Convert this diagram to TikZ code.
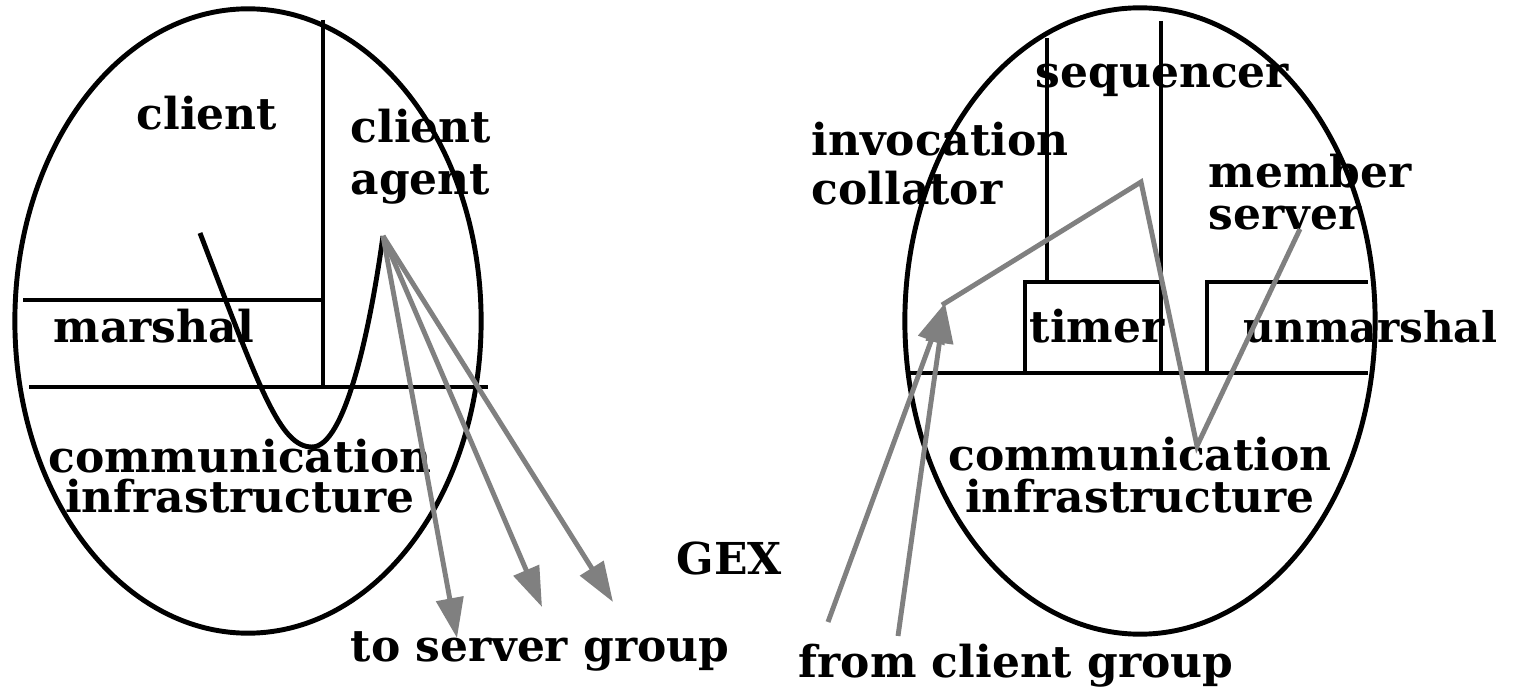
\documentclass[tikz,border=0pt]{standalone}
\usepackage{fontspec}
\setmainfont{DejaVu Serif}
\usetikzlibrary{arrows.meta}
\definecolor{arrgray}{RGB}{128,128,128}
\tikzset{
  lbl/.style={inner sep=0pt, font=\bfseries\fontsize{12.5}{#1}\selectfont},
  lbl/.default=14.8,
  blk/.style={line width=1.4pt, black},
  gry/.style={line width=1.4pt, arrgray},
  garrow/.style={gry, -{Triangle[length=0.4cm,width=0.27cm]}}
}
\begin{document}
\begin{tikzpicture}[x=0.01cm,y=-0.01cm]
\useasboundingbox[fill=white] (0,0) rectangle (1514,691);

% ---------- left ellipse ----------
\draw[blk] (248,321) ellipse [x radius=2.33cm, y radius=3.12cm];
\draw[blk] (323,20) -- (323,388);
\draw[blk] (23,300) -- (323,300);
\draw[blk] (29,387) -- (488,387);
\coordinate (peak) at (383,236);
\coordinate (cstart) at (200,233);
\draw[blk] (cstart) .. controls (260,390) and (280,447) .. (312,447)
                   .. controls (345,447) and (370,330) .. (peak);

\node[lbl, anchor=base] (client) at (207,130) {client};
\node[lbl=14.8, anchor=base west, align=left] (cagent) at (350,195) {client\\agent};
\node[lbl, anchor=base west] (marshal) at (53,343) {marshal};
\node[lbl=11.4, anchor=base, align=center] (comL) at (240,513) {communication\\infrastructure};
\node[lbl, anchor=base west] (toserver) at (350,662) {to server group};
\node[lbl, anchor=base west] (gex) at (676,574) {GEX};

\coordinate (t1) at (457,638);
\coordinate (t2) at (542,607);
\coordinate (t3) at (613,602);
\draw[garrow] (peak) -- (t1);
\draw[garrow] (peak) -- (t2);
\draw[garrow] (peak) -- (t3);

% ---------- right ellipse ----------
\draw[blk] (1140,321) ellipse [x radius=2.35cm, y radius=3.13cm];
\draw[blk] (1047,38) -- (1047,283);
\draw[blk] (1161,21) -- (1161,375);
\draw[blk] (1025,375) -- (1025,282) -- (1161,282);
\draw[blk] (1207,375) -- (1207,282) -- (1368,282);
\draw[blk] (909,373) -- (1368,373);

\node[lbl, anchor=base west] (seq) at (1035,88) {sequencer};
\node[lbl=14.2, anchor=base west, align=left] (invcol) at (811,205) {invocation\\collator};
\node[lbl=12.2, anchor=base west, align=left] (member) at (1208,230) {member\\server};
\node[lbl, anchor=base west] (timer) at (1029,343) {timer};
\node[lbl, anchor=base west, font=\bfseries\fontsize{12}{14}\selectfont] (unmarshal) at (1243,343) {unmarshal};
\node[lbl=12.2, anchor=base, align=center] (comR) at (1140,513) {communication\\infrastructure};
\node[lbl, anchor=base west] (fromclient) at (798,677) {from client group};

\coordinate (icol) at (942,305);
\coordinate (seqpt) at (1141,182);
\coordinate (compt) at (1197,446);
\coordinate (mspt) at (1300,229);
\draw[gry, line join=miter] (icol) -- (seqpt) -- (compt) -- (mspt);

\coordinate (f1) at (828,622);
\coordinate (f2) at (898,636);
\coordinate (ftip) at (945,303);
\draw[garrow] (f1) -- (ftip);
\draw[garrow] (f2) -- (ftip);
\end{tikzpicture}
\end{document}
